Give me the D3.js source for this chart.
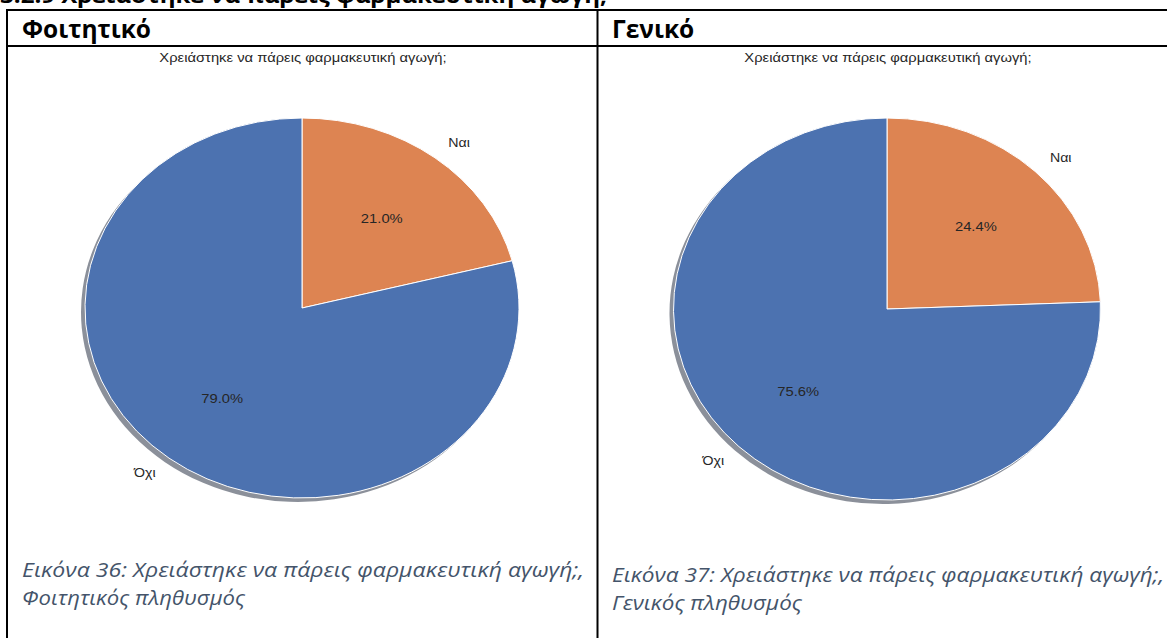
<!DOCTYPE html>
<html><head><meta charset="utf-8">
<script src="https://cdn.jsdelivr.net/npm/d3@7"></script>
<style>
html,body{margin:0;padding:0;background:#fff;overflow:hidden}
svg{display:block}
</style></head><body>
<svg id="chart" width="1167" height="638"></svg>
<script>
// ---- data ----
const categories = ["Ναι", "Όχι"];
const studentValues = [21.0, 79.0];
const generalValues = [24.4, 75.6];
const panelHeaders = ["Φοιτητικό", "Γενικό"];
const chartTitle = "Χρειάστηκε να πάρεις φαρμακευτική αγωγή;";
const captionLine1 = ["Εικόνα 36: Χρειάστηκε να πάρεις φαρμακευτική αγωγή;,", "Εικόνα 37: Χρειάστηκε να πάρεις φαρμακευτική αγωγή;,"];
const captionLine2 = ["Φοιτητικός πληθυσμός", "Γενικός πληθυσμός"];
const sectionHeading = "3.2.9 Χρειάστηκε να πάρεις φαρμακευτική αγωγή;";
const sliceColors = ["#DD8452", "#4C72B0"];

const svg = d3.select("#chart");

// cut-off section heading at very top (as in the reference page crop)
svg.append("text").attr("x", 0).attr("y", 3)
  .attr("font-family", "Open Sans, sans-serif").attr("font-weight", "bold")
  .attr("font-size", 22).attr("fill", "#000")
  .attr("textLength", 607).attr("lengthAdjust", "spacingAndGlyphs")
  .text(sectionHeading);

// table lines
const lines = [
  [6, 10, 1167, 10], [6, 46, 1167, 46], [7, 9, 7, 638], [597.5, 9, 597.5, 638]
];
svg.selectAll("line.tbl").data(lines).join("line").attr("class", "tbl")
  .attr("x1", d => d[0]).attr("y1", d => d[1]).attr("x2", d => d[2]).attr("y2", d => d[3])
  .attr("stroke", "#000").attr("stroke-width", 2);

const panels = [
  {values: studentValues, hx: 22, cx: 302, cy: 308, rx: 217, ry: 190, capX: 22, capY: 577, capW: 562, cap2W: 223},
  {values: generalValues, hx: 612, cx: 887, cy: 309, rx: 213.5, ry: 191, capX: 612, capY: 582, capW: 552, cap2W: 190}
];
const hScale = 1.136;

panels.forEach((p, i) => {
  // header
  svg.append("text").attr("x", p.hx).attr("y", 38)
    .attr("font-family", "Open Sans, sans-serif").attr("font-weight", "bold")
    .attr("font-size", 24.5).attr("fill", "#000").text(panelHeaders[i]);

  // chart title
  svg.append("text").attr("transform", `translate(${p.cx + 1},${62}) scale(${hScale},1)`)
    .attr("text-anchor", "middle")
    .attr("font-family", "Liberation Sans, Arial, sans-serif")
    .attr("font-size", 13).attr("fill", "#262626").text(chartTitle);

  const xS = d3.scaleLinear().domain([-1, 1]).range([p.cx - p.rx, p.cx + p.rx]);
  const yS = d3.scaleLinear().domain([-1, 1]).range([p.cy + p.ry, p.cy - p.ry]);

  const pie = d3.pie().sort(null).startAngle(0).endAngle(2 * Math.PI);
  const arcs = pie(p.values);
  const arc = d3.arc().innerRadius(0).outerRadius(p.ry);

  // shadow
  const sh = svg.append("g")
    .attr("transform", `translate(${p.cx - 4},${p.cy + 4}) scale(${p.rx / p.ry},1)`);
  sh.selectAll("path").data(arcs).join("path")
    .attr("d", arc)
    .attr("fill", (d, j) => { const c = d3.rgb(sliceColors[j]); return d3.rgb(c.r * 0.3, c.g * 0.3, c.b * 0.3); })
    .attr("opacity", 0.5);

  const g = svg.append("g")
    .attr("transform", `translate(${p.cx},${p.cy}) scale(${p.rx / p.ry},1)`);
  g.selectAll("path").data(arcs).join("path")
    .attr("d", arc)
    .attr("fill", (d, j) => sliceColors[j])
    .attr("stroke", "#fff").attr("stroke-width", 1)
    .attr("vector-effect", "non-scaling-stroke");

  arcs.forEach((a, j) => {
    const mid = (a.startAngle + a.endAngle) / 2;
    const s = Math.sin(mid), c = Math.cos(mid);
    // category label at 1.1
    svg.append("text")
      .attr("transform", `translate(${xS(1.1 * s)},${yS(1.1 * c)}) scale(${hScale},1)`)
      .attr("text-anchor", s > 0 ? "start" : "end")
      .attr("dominant-baseline", "central")
      .attr("font-family", "Liberation Sans, Arial, sans-serif")
      .attr("font-size", 12.5).attr("fill", "#262626").text(categories[j]);
    // percentage at 0.6
    svg.append("text")
      .attr("transform", `translate(${xS(0.6 * s)},${yS(0.6 * c)}) scale(${hScale},1)`)
      .attr("text-anchor", "middle")
      .attr("dominant-baseline", "central")
      .attr("font-family", "Liberation Sans, Arial, sans-serif")
      .attr("font-size", 13).attr("fill", "#262626").text(p.values[j].toFixed(1) + "%");
  });

  // captions
  svg.append("text").attr("x", p.capX).attr("y", p.capY)
    .attr("font-family", "Open Sans, sans-serif").attr("font-style", "italic")
    .attr("font-size", 20).attr("fill", "#44546A")
    .attr("textLength", p.capW).attr("lengthAdjust", "spacingAndGlyphs")
    .text(captionLine1[i]);
  svg.append("text").attr("x", p.capX).attr("y", p.capY + 28)
    .attr("font-family", "Open Sans, sans-serif").attr("font-style", "italic")
    .attr("font-size", 20).attr("fill", "#44546A")
    .attr("textLength", p.cap2W).attr("lengthAdjust", "spacingAndGlyphs")
    .text(captionLine2[i]);
});
</script>
</body></html>
